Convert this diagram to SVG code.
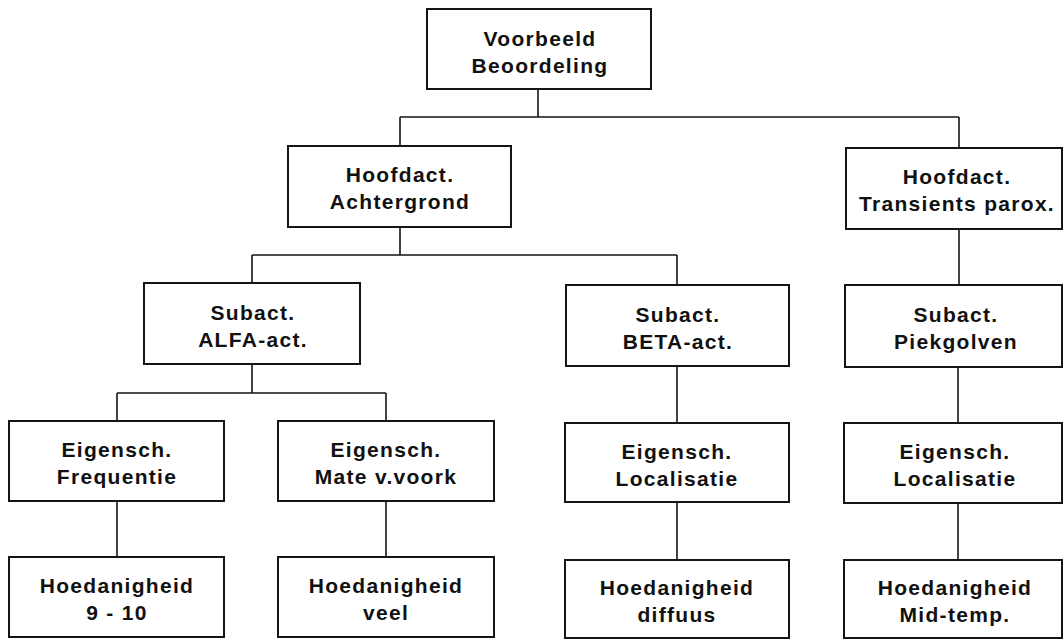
<svg xmlns="http://www.w3.org/2000/svg" width="1064" height="639" viewBox="0 0 1064 639">
<style>
.box{fill:#fff;stroke:#151515;stroke-width:2}
.t{font-family:"Liberation Sans",Arial,sans-serif;font-weight:bold;font-size:21px;letter-spacing:1.3px;fill:#111;text-anchor:middle}
.c{stroke:#151515;stroke-width:1.6;fill:none}
</style>
<rect width="1064" height="639" fill="#fff"/>
<g id="connectors" class="c">
<path d="M538,89V117M400,117H959M400,117V146M959,117V148"/>
<path d="M400,227V255M252,255H677M252,255V283M677,255V285"/>
<path d="M252,364V393M117,393H386M117,393V421M386,393V421"/>
<path d="M959,229V285M677,366V423M958,367V423"/>
<path d="M117,501V557M386,501V557M677,502V560M958,503V560"/>
</g>
<g id="root"><rect class="box" x="427" y="9" width="224" height="80"/><text class="t" x="540" y="46">Voorbeeld</text><text class="t" x="540" y="73">Beoordeling</text></g>
<g id="hoofd-achtergrond"><rect class="box" x="288" y="146" width="223" height="81"/><text class="t" x="400" y="182">Hoofdact.</text><text class="t" x="400" y="209">Achtergrond</text></g>
<g id="hoofd-transients"><rect class="box" x="846" y="148" width="216" height="81"/><text class="t" x="957" y="184">Hoofdact.</text><text class="t" x="957" y="211">Transients parox.</text></g>
<g id="sub-alfa"><rect class="box" x="144" y="283" width="216" height="81"/><text class="t" x="253" y="320">Subact.</text><text class="t" x="253" y="347">ALFA-act.</text></g>
<g id="sub-beta"><rect class="box" x="566" y="285" width="223" height="81"/><text class="t" x="678" y="322">Subact.</text><text class="t" x="678" y="349">BETA-act.</text></g>
<g id="sub-piek"><rect class="box" x="845" y="285" width="217" height="82"/><text class="t" x="956" y="322">Subact.</text><text class="t" x="956" y="349">Piekgolven</text></g>
<g id="eig-freq"><rect class="box" x="9" y="421" width="215" height="80"/><text class="t" x="117" y="457">Eigensch.</text><text class="t" x="117" y="484">Frequentie</text></g>
<g id="eig-mate"><rect class="box" x="278" y="421" width="216" height="80"/><text class="t" x="386" y="457">Eigensch.</text><text class="t" x="386" y="484">Mate v.voork</text></g>
<g id="eig-loc1"><rect class="box" x="565" y="423" width="224" height="79"/><text class="t" x="677" y="459">Eigensch.</text><text class="t" x="677" y="486">Localisatie</text></g>
<g id="eig-loc2"><rect class="box" x="844" y="423" width="218" height="80"/><text class="t" x="955" y="459">Eigensch.</text><text class="t" x="955" y="486">Localisatie</text></g>
<g id="hoed-910"><rect class="box" x="9" y="557" width="215" height="80"/><text class="t" x="117" y="593">Hoedanigheid</text><text class="t" x="117" y="620">9 - 10</text></g>
<g id="hoed-veel"><rect class="box" x="278" y="557" width="216" height="80"/><text class="t" x="386" y="593">Hoedanigheid</text><text class="t" x="386" y="620">veel</text></g>
<g id="hoed-diffuus"><rect class="box" x="565" y="560" width="224" height="78"/><text class="t" x="677" y="595">Hoedanigheid</text><text class="t" x="677" y="622">diffuus</text></g>
<g id="hoed-mid"><rect class="box" x="844" y="560" width="218" height="78"/><text class="t" x="955" y="595">Hoedanigheid</text><text class="t" x="955" y="622">Mid-temp.</text></g>
</svg>
